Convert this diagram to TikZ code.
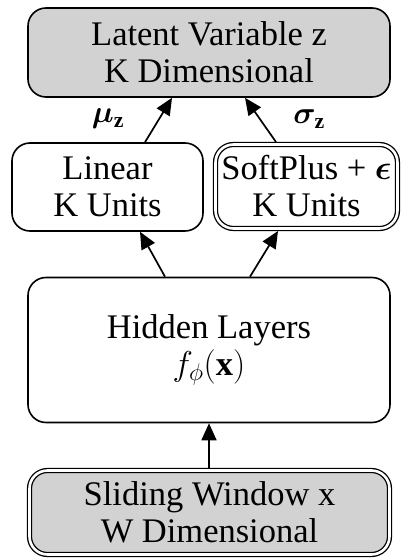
\RequirePackage{fix-cm}
\documentclass[tikz,border=0pt]{standalone}
\usepackage{amsmath,bm}
\usepackage{fontspec}
\setmainfont{Liberation Serif}
\usetikzlibrary{arrows.meta,calc}
\begin{document}
\begin{tikzpicture}[x=1pt,y=-1pt,
  box/.style={draw, line width=1.6pt, rounded corners=18pt, align=center,
    inner sep=0pt, font=\fontsize{34.5}{37}\selectfont},
  dbox/.style={box, double, double distance=2.6pt, line width=1.3pt, outer sep=2.5pt},
  shaded/.style={fill=gray!35},
  arr/.style={line width=1.7pt, -{Triangle[length=17pt,width=15pt]}},
  lab/.style={font=\fontsize{31}{31}\selectfont}]
\useasboundingbox (0,0) rectangle (403,559);
\node[box, shaded, minimum width=362pt, minimum height=89pt] (lat) at (209,52.5)
  {Latent Variable z\\K Dimensional};
\node[box, minimum width=191pt, minimum height=88pt] (lin) at (107.5,187)
  {Linear\\K Units};
\node[dbox, minimum width=182pt, minimum height=84pt] (soft) at (306.5,186.5)
  {SoftPlus + $\bm{\epsilon}$\\K Units};
\node[box, minimum width=362pt, minimum height=145pt] (hid) at (209,350)
  {Hidden Layers\\$f_{\phi}(\mathbf{x})$};
\node[dbox, shaded, minimum width=360pt, minimum height=84pt] (win) at (209.5,512.5)
  {Sliding Window x\\W Dimensional};
\draw[arr] ($(lin.north)+(37.5,0)$) -- ($(lat.south)+(-37,0)$);
\draw[arr] ($(soft.north)+(-30.5,0)$) -- ($(lat.south)+(36,0)$);
\draw[arr] ($(hid.north)+(-44,0)$) -- ($(lin.south)+(32.5,0)$);
\draw[arr] ($(hid.north)+(41,0)$) -- ($(soft.south)+(-28.5,0)$);
\draw[arr] (win.north -| hid.south) -- (hid.south);
\node[lab] (mu) at (108,119) {$\bm{\mu}_{\mathbf{z}}$};
\node[lab] (sig) at (309,119) {$\bm{\sigma}_{\mathbf{z}}$};
\end{tikzpicture}
\end{document}
